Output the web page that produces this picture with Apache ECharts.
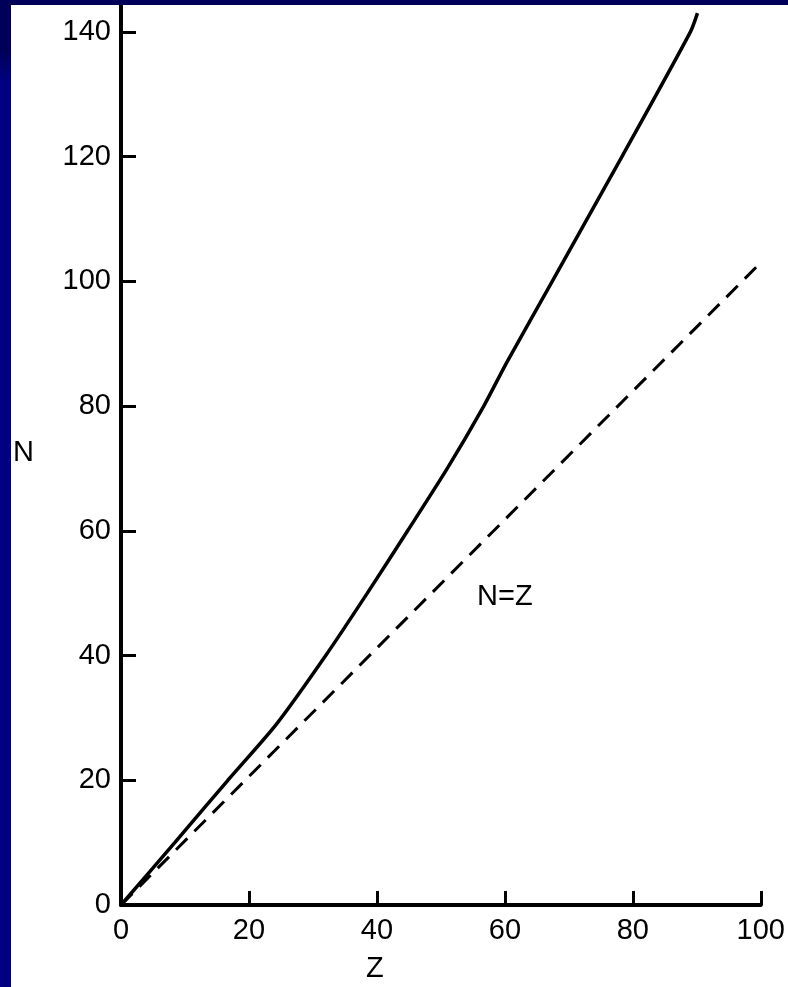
<!DOCTYPE html>
<html>
<head>
<meta charset="utf-8">
<script src="https://cdn.jsdelivr.net/npm/echarts@6/dist/echarts.min.js"></script>
<style>
html,body{margin:0;padding:0;width:788px;height:987px;overflow:hidden;background:#000080;}
#topbar{position:absolute;left:0;top:0;width:788px;height:5px;background:#000058;}
#corner{position:absolute;left:0;top:0;width:11px;height:80px;background:linear-gradient(170deg,#000058 60%,#000080 100%);}
#chart{position:absolute;left:11px;top:5px;width:777px;height:982px;background:#ffffff;}
</style>
</head>
<body>
<div id="topbar"></div>
<div id="corner"></div>
<div id="chart"></div>
<script>
// Z values and N values of the stability line (solid curve)
const stableZ = [0, 8.4, 16.7, 24.3, 32.0, 38.5, 44.8, 51.0, 56.7, 60.3, 67.4, 78.3, 89.0, 90.1];
const stableN = [0, 10, 20, 29, 40, 50, 60, 70, 80, 87, 100, 120, 140, 143];
// dashed N=Z reference line
const diagZ = [0, 100];
const diagN = [0, 103];
const xTicks = [0, 20, 40, 60, 80, 100];
const yTicks = [0, 20, 40, 60, 80, 100, 120, 140];

const font = 'Liberation Sans, Arial, sans-serif';
const chart = echarts.init(document.getElementById('chart'));
chart.setOption({
  animation: false,
  backgroundColor: '#ffffff',
  grid: {left: 110, right: 22, top: 0, bottom: 82},
  xAxis: {
    type: 'value', min: 0, max: 100, interval: 20,
    axisLine: {show: true, lineStyle: {color: '#000', width: 4}},
    axisTick: {show: true, inside: true, length: 14, lineStyle: {color: '#000', width: 3}, customValues: xTicks},
    axisLabel: {color: '#000', fontSize: 29, fontFamily: font, margin: 11, customValues: xTicks},
    splitLine: {show: false}
  },
  yAxis: {
    type: 'value', min: 0, max: 144.3,
    axisLine: {show: true, onZero: false, lineStyle: {color: '#000', width: 4}},
    axisTick: {show: true, inside: true, length: 15, lineStyle: {color: '#000', width: 3}, customValues: yTicks},
    axisLabel: {color: '#000', fontSize: 29, fontFamily: font, margin: 10, customValues: yTicks},
    splitLine: {show: false}
  },
  graphic: [
    {type: 'text', left: 2, top: 433, style: {text: 'N', fontSize: 29, fontFamily: font, fill: '#000'}},
    {type: 'text', left: 355, top: 949, style: {text: 'Z', fontSize: 29, fontFamily: font, fill: '#000'}},
    {type: 'text', left: 466, top: 577, style: {text: 'N=Z', fontSize: 29, fontFamily: font, fill: '#000'}}
  ],
  series: [
    {
      type: 'line', showSymbol: false, smooth: 0.25,
      data: stableZ.map((z, i) => [z, stableN[i]]),
      lineStyle: {color: '#000', width: 3.5}
    },
    {
      type: 'line', showSymbol: false,
      data: diagZ.map((z, i) => [z, diagN[i]]),
      lineStyle: {color: '#000', width: 3, type: [16, 10]}
    }
  ]
});
</script>
</body>
</html>
